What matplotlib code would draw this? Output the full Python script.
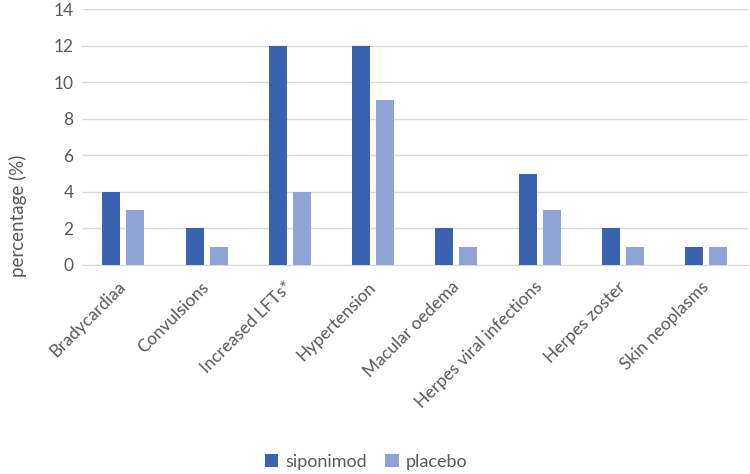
import numpy as np
import matplotlib.pyplot as plt

plt.rcParams['font.family'] = ['Lato', 'DejaVu Sans']

categories = ['Bradycardiaa', 'Convulsions', 'Increased LFTs*', 'Hypertension',
              'Macular oedema', 'Herpes viral infections', 'Herpes zoster', 'Skin neoplasms']
siponimod = [4, 2, 12, 12, 2, 5, 2, 1]
placebo = [3, 1, 4, 9, 1, 3, 1, 1]

c_sip = '#3A62AE'
c_pla = '#8FA3D6'
grey = '#595959'

fig = plt.figure(figsize=(7.5, 4.74), dpi=100)
ax = fig.add_axes([0.109, 0.441, 0.888, 0.540])

x = np.arange(len(categories))
w = 0.216
ax.bar(x - 0.144, siponimod, w, color=c_sip, label='siponimod', zorder=3)
ax.bar(x + 0.144, placebo, w, color=c_pla, label='placebo', zorder=3)

ax.set_xlim(-0.5, len(categories) - 0.5)
ax.set_ylim(0, 14)
ax.set_yticks(range(0, 15, 2))
ax.yaxis.grid(True, color='#D9D9D9', linewidth=1, zorder=0)
for s in ['top', 'right', 'left']:
    ax.spines[s].set_visible(False)
ax.spines['bottom'].set_color('#D9D9D9')
ax.tick_params(axis='y', length=0, labelsize=12.5, colors=grey, pad=6)
ax.tick_params(axis='x', length=0, labelsize=12.5, colors=grey, pad=14)
ax.set_xticks(x)
ax.set_xticklabels(categories, rotation=45, ha='right', va='center', rotation_mode='anchor')

fig.text(18 / 750, 1 - 216 / 474, 'percentage (%)', rotation=90, fontsize=13.5,
         color=grey, ha='center', va='center')

fig.legend(loc='center', bbox_to_anchor=(366 / 750, 1 - 462 / 474), ncol=2, frameon=False,
           fontsize=13, handlelength=0.75, handleheight=0.75, handletextpad=0.4,
           columnspacing=1.0, labelcolor=grey)

fig.savefig('out.png', dpi=100)
